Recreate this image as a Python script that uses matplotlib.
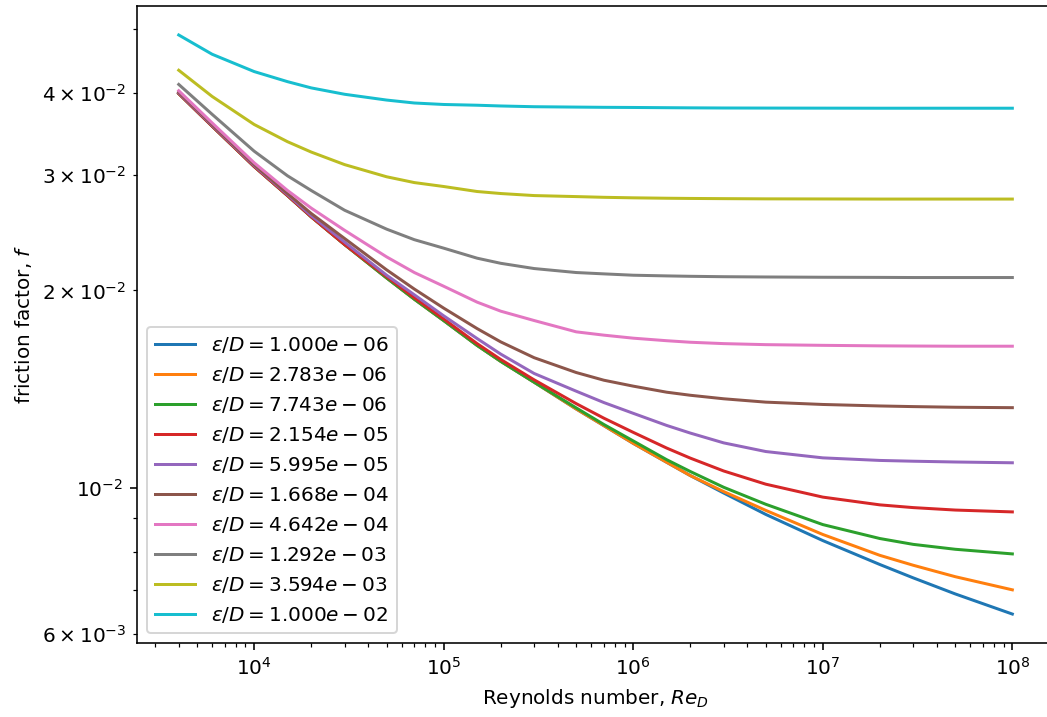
import numpy as np
import matplotlib
matplotlib.use("Agg")
import matplotlib.pyplot as plt

re_d = [4e3, 6e3, 1e4, 1.5e4, 2e4, 3e4, 5e4, 7e4, 1e5, 1.5e5, 2e5, 3e5,
        5e5, 7e5, 1e6, 1.5e6, 2e6, 3e6, 5e6, 1e7, 2e7, 3e7, 5e7, 1e8]

# relative roughness of each curve
rough = [1.000e-06, 2.783e-06, 7.743e-06, 2.154e-05, 5.995e-05,
         1.668e-04, 4.642e-04, 1.292e-03, 3.594e-03, 1.000e-02]

# friction factor, one list per roughness
f_1 = [0.0399, 0.0356, 0.0309, 0.0279, 0.0259, 0.0235, 0.0209, 0.0194, 0.0180, 0.0165, 0.0156, 0.0145,
       0.01320, 0.01245, 0.01170, 0.01095, 0.01045, 0.00983, 0.00912, 0.00832, 0.00765, 0.00730, 0.00690, 0.00643]
f_2 = [0.0399, 0.0356, 0.0309, 0.0279, 0.0259, 0.0235, 0.0209, 0.0194, 0.0180, 0.0165, 0.0156, 0.0145,
       0.01320, 0.01245, 0.01170, 0.01095, 0.01045, 0.00988, 0.00925, 0.00850, 0.00790, 0.00763, 0.00733, 0.00700]
f_3 = [0.0399, 0.0356, 0.0309, 0.0279, 0.0259, 0.0235, 0.0209, 0.0194, 0.0180, 0.0165, 0.0156, 0.0145,
       0.01325, 0.01250, 0.01180, 0.01105, 0.01060, 0.01003, 0.00945, 0.00880, 0.00838, 0.00821, 0.00807, 0.00794]
f_4 = [0.0399, 0.0356, 0.0309, 0.0279, 0.0259, 0.0235, 0.0210, 0.0195, 0.0181, 0.0166, 0.0157, 0.01462,
       0.01345, 0.01278, 0.01216, 0.01151, 0.01111, 0.01062, 0.01014, 0.00969, 0.00943, 0.00934, 0.00926, 0.00920]
f_5 = [0.0400, 0.0357, 0.0310, 0.0280, 0.0260, 0.0237, 0.0211, 0.0197, 0.0183, 0.0169, 0.0160, 0.01495,
       0.01405, 0.01350, 0.01300, 0.01246, 0.01213, 0.01172, 0.01137, 0.01112, 0.01102, 0.01099, 0.01096, 0.01093]
f_6 = [0.0401, 0.0358, 0.0311, 0.0281, 0.0262, 0.0240, 0.0215, 0.0201, 0.0188, 0.0175, 0.0167, 0.0158,
       0.0150, 0.0146, 0.0143, 0.0140, 0.01385, 0.01368, 0.01352, 0.01341, 0.01334, 0.01331, 0.01328, 0.01326]
f_7 = [0.0403, 0.0360, 0.0313, 0.0284, 0.0267, 0.0247, 0.0225, 0.0213, 0.0203, 0.0192, 0.0186, 0.0180,
       0.0173, 0.0171, 0.01692, 0.01677, 0.01668, 0.01660, 0.01654, 0.01650, 0.01647, 0.01646, 0.01645, 0.01645]
f_8 = [0.0412, 0.0371, 0.0326, 0.0299, 0.0284, 0.0265, 0.0248, 0.0239, 0.0232, 0.0224, 0.0220, 0.0216,
       0.0213, 0.0212, 0.02110, 0.02105, 0.02102, 0.02099, 0.02097, 0.02095, 0.02094, 0.02093, 0.02093, 0.02093]
f_9 = [0.0433, 0.0395, 0.0358, 0.0337, 0.0325, 0.0311, 0.0298, 0.0292, 0.0288, 0.0283, 0.0281, 0.0279,
       0.0278, 0.02773, 0.02768, 0.02764, 0.02762, 0.02760, 0.02758, 0.02757, 0.02756, 0.02756, 0.02756, 0.02756]
f_10 = [0.0490, 0.0458, 0.0431, 0.0416, 0.0407, 0.0398, 0.0390, 0.0386, 0.0384, 0.0383, 0.0382, 0.0381,
        0.03805, 0.03802, 0.03800, 0.03797, 0.03795, 0.03793, 0.03792, 0.03791, 0.03790, 0.03790, 0.03790, 0.03790]

curves = [f_1, f_2, f_3, f_4, f_5, f_6, f_7, f_8, f_9, f_10]

DPI = 144
fig = plt.figure(figsize=(1047 / DPI, 717 / DPI), dpi=DPI)
# the original image is cropped on the right, so the axes runs past the edge
ax = fig.add_axes([0.1309, 0.1032, 0.8758, 0.8884])

for e, f in zip(rough, curves):
    ax.loglog(re_d, f, label=rf"$\varepsilon/D = {e:.3e}$")

ax.set_xlabel("Reynolds number, $Re_D$")
ax.set_ylabel("friction factor, $f$")
ax.legend(loc="lower left")
ax.spines["right"].set_visible(False)

fig.savefig("out.png", dpi=DPI)
